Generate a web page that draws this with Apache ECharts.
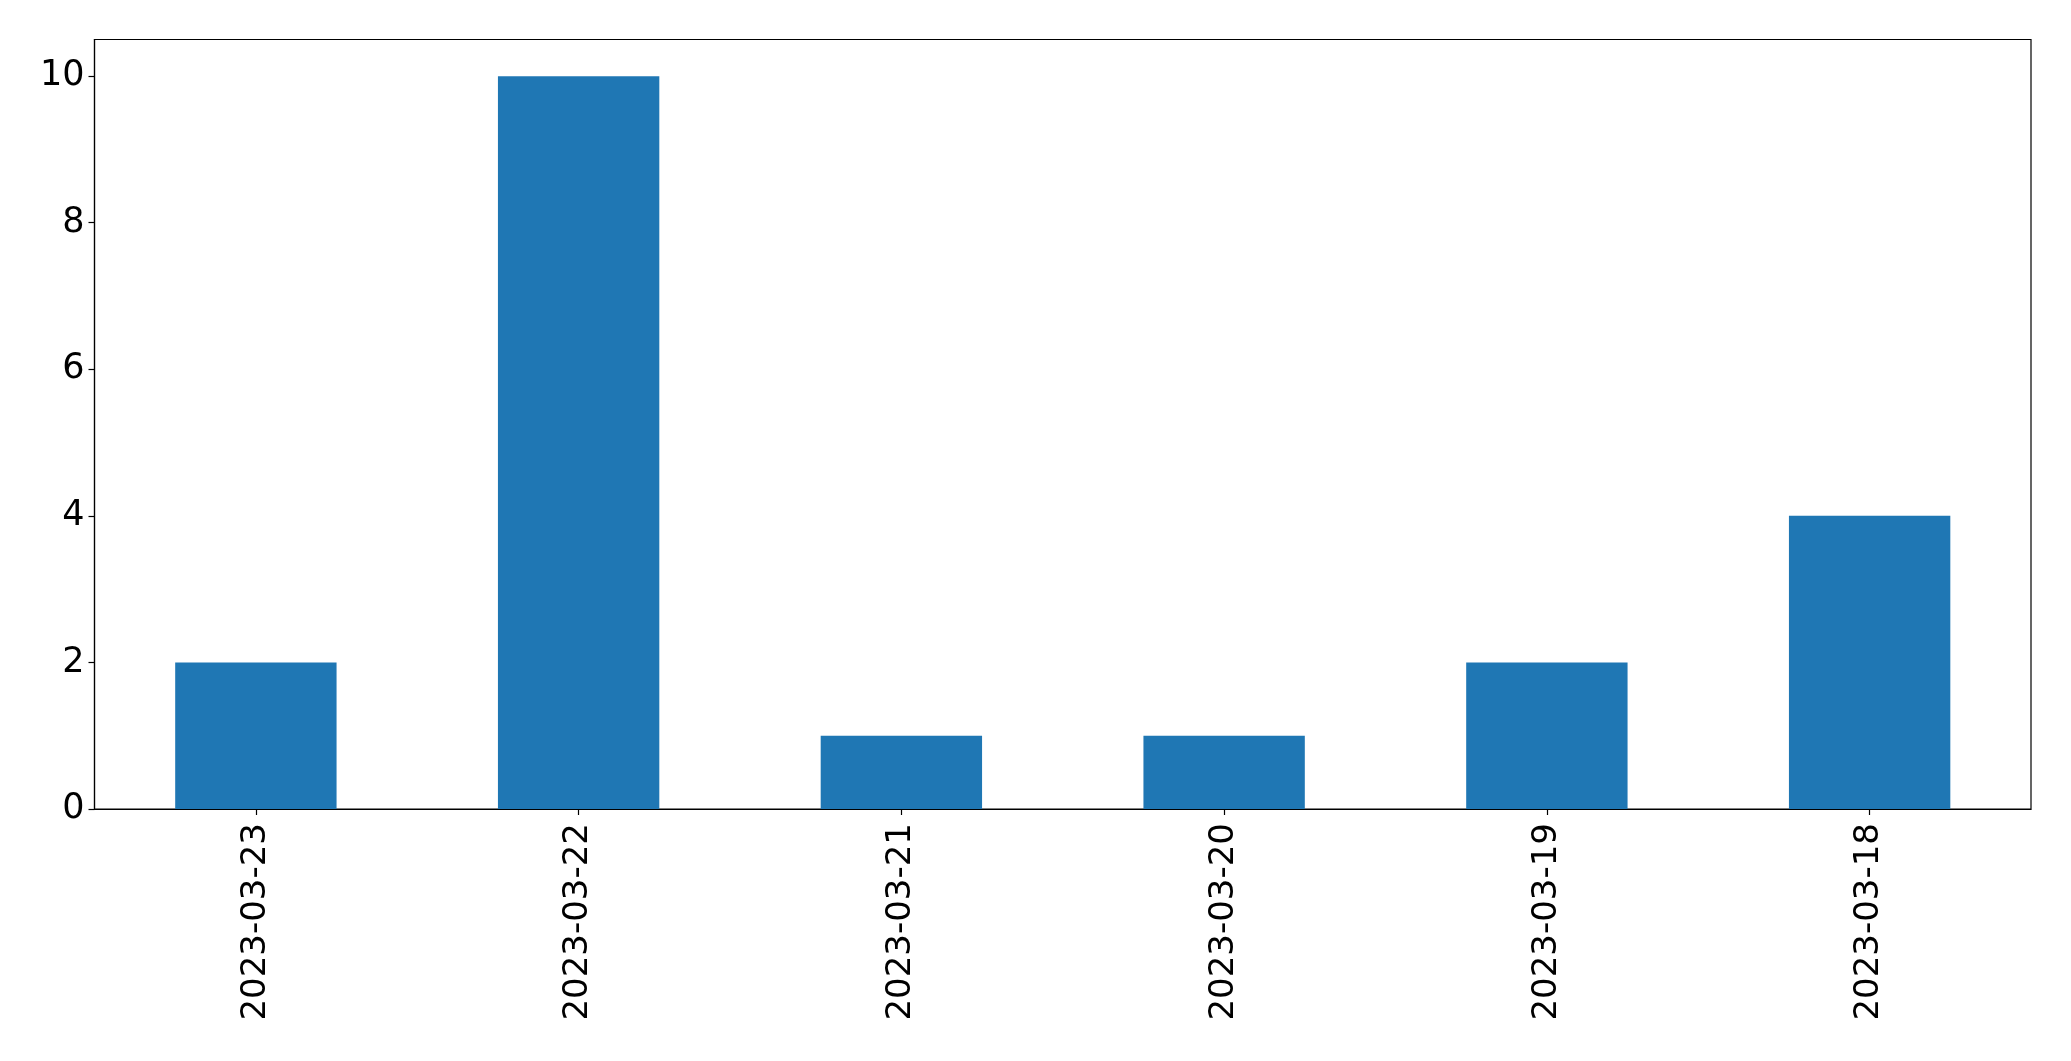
<!DOCTYPE html>
<html>
<head>
<meta charset="utf-8">
<script src="https://cdn.jsdelivr.net/npm/echarts@6/dist/echarts.min.js"></script>
<style>
html,body{margin:0;padding:0;background:#fff;}
#chart{width:2071px;height:1061px;}
</style>
</head>
<body>
<div id="chart"></div>
<script>
const categories = ["2023-03-23","2023-03-22","2023-03-21","2023-03-20","2023-03-19","2023-03-18"];
const values = [2,10,1,1,2,4];
const yTicks = [0,2,4,6,8,10];

const chart = echarts.init(document.getElementById('chart'), null, {renderer:'canvas'});
const font = "'DejaVu Sans', sans-serif";
chart.setOption({
  animation:false,
  backgroundColor:'#ffffff',
  grid:{left:94.5,right:40,top:39.5,bottom:252,show:true,borderColor:'#000',borderWidth:1.2,backgroundColor:'transparent'},
  xAxis:{
    type:'category',
    data:categories,
    boundaryGap:true,
    axisLine:{show:true,lineStyle:{color:'#000',width:1.2}},
    axisTick:{show:true,alignWithLabel:true,length:6,lineStyle:{color:'#000',width:1.2}},
    axisLabel:{rotate:90,margin:14,color:'#000',fontSize:34,fontFamily:font,interval:0},
    splitLine:{show:false}
  },
  yAxis:{
    type:'value',
    min:0,max:10.5,
    axisLine:{show:true,lineStyle:{color:'#000',width:1.2}},
    axisTick:{show:true,length:6,lineStyle:{color:'#000',width:1.2},customValues:yTicks},
    axisLabel:{margin:10,color:'#000',fontSize:35,fontFamily:font,customValues:yTicks},
    splitLine:{show:false}
  },
  series:[{
    type:'bar',
    data:values,
    barWidth:'50%',
    itemStyle:{color:'#1f77b4'}
  }]
});
</script>
</body>
</html>
